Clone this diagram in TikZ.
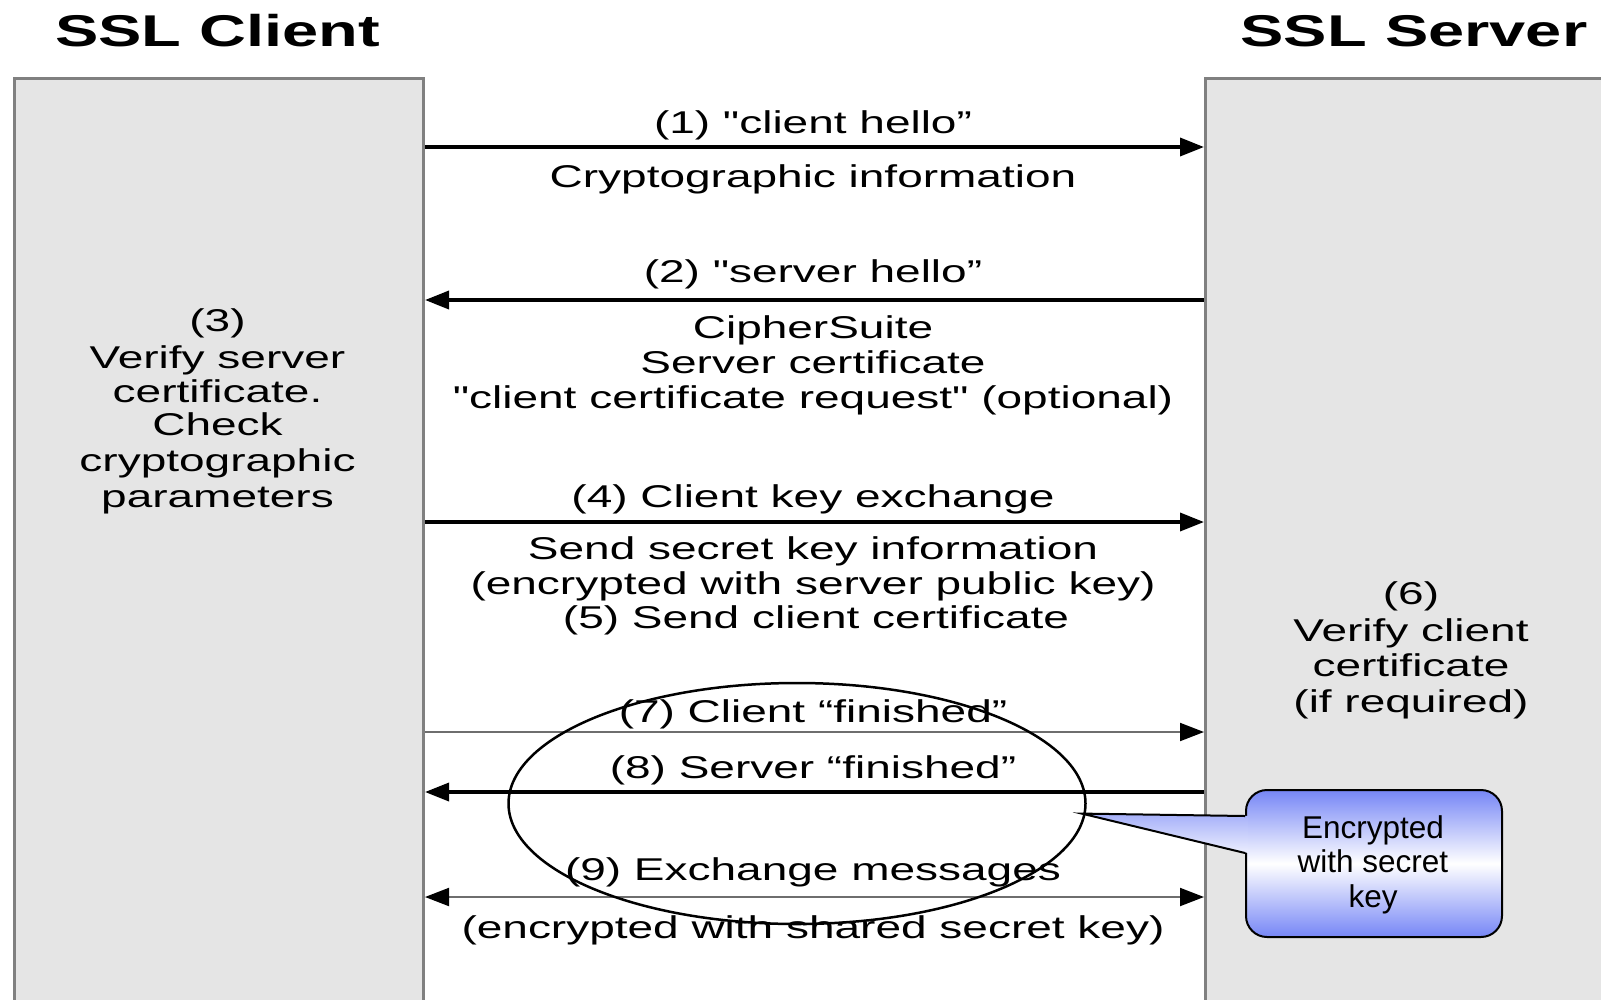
\documentclass[tikz,border=0pt]{standalone}
\usepackage{fontspec}
\setmainfont{Liberation Sans}
\newfontfamily\widefont{Liberation Sans}[FakeStretch=1.46]
\usetikzlibrary{arrows.meta,shapes.geometric}
\definecolor{boxgray}{RGB}{229,229,229}
\definecolor{boxedge}{RGB}{128,128,128}
\definecolor{callblue}{RGB}{118,134,246}
\definecolor{thingray}{RGB}{110,110,110}
\begin{document}
\begin{tikzpicture}[x=1pt,y=-1pt,
 lane/.style={draw=boxedge, line width=3pt, fill=boxgray, minimum width=409pt, minimum height=960pt, inner sep=0pt, anchor=north west},
 title/.style={font=\widefont\bfseries\fontsize{44.5}{50}\selectfont, anchor=base, inner sep=0pt},
 lbl/.style={font=\widefont\fontsize{31.5}{34.5}\selectfont, anchor=base, inner sep=0pt},
 calltxt/.style={font=\fontsize{31.5}{34.5}\selectfont, anchor=base, inner sep=0pt},
 msg/.style={line width=3.5pt, -{Triangle[length=24pt,width=18pt]}},
 thinmsg/.style={line width=2pt, draw=thingray},
 callbox/.style={draw=black, line width=2pt, rounded corners=21pt, top color=callblue, bottom color=callblue, middle color=white, minimum width=256pt, minimum height=147pt, inner sep=0pt},
]
\useasboundingbox (0,0) rectangle (1601,999);
\fill[white] (0,0) rectangle (1601,999);

% lanes
\node[lane] (client) at (13,77) {};
\node[lane] (server) at (1204,77) {};

% titles
\node[title] (tclient) at (217.5,46.6) {SSL Client};
\node[title] (tserver) at (1414,46.6) {SSL Server};

% message rows
\coordinate (y1) at (0,147);
\coordinate (y2) at (0,300);
\coordinate (y4) at (0,522);
\coordinate (y7) at (0,732);
\coordinate (y8) at (0,792);
\coordinate (y9) at (0,897);

\draw[msg] (client.east |- y1) -- (server.west |- y1);
\draw[msg] (server.west |- y2) -- (client.east |- y2);
\draw[msg] (client.east |- y4) -- (server.west |- y4);
\draw[thinmsg, -{Triangle[length=24pt,width=18pt,color=black]}] (client.east |- y7) -- (server.west |- y7);
\draw[msg] (server.west |- y8) -- (client.east |- y8);
\draw[thinmsg, {Triangle[length=24pt,width=18pt,color=black]}-{Triangle[length=24pt,width=18pt,color=black]}] (client.east |- y9) -- (server.west |- y9);

% message labels
\node[lbl] (m1a) at (813,133.5) {(1) "client hello”};
\node[lbl] (m1b) at (813,187.6) {Cryptographic information};
\node[lbl] (m2a) at (813,282.6) {(2) "server hello”};
\node[lbl] (m2b) at (813,338.7) {CipherSuite};
\node[lbl] (m2c) at (813,373.5) {Server certificate};
\node[lbl] (m2d) at (813,408) {"client certificate request" (optional)};
\node[lbl] (m4a) at (813,507) {(4) Client key exchange};
\node[lbl] (m4b) at (813,559) {Send secret key information};
\node[lbl] (m4c) at (813,594) {(encrypted with server public key)};
\node[lbl] (m5) at (816,628.7) {(5) Send client certificate};
\node[lbl] (m7) at (813,722.6) {(7) Client “finished”};
\node[lbl] (m8) at (813,778.8) {(8) Server “finished”};
\node[lbl] (m9a) at (813,880) {(9) Exchange messages};
\node[lbl] (m9b) at (813,938) {(encrypted with shared secret key)};

% client side step (3)
\node[lbl] (c3a) at (217.5,331.6) {(3)};
\node[lbl] (c3b) at (217.5,368) {Verify server};
\node[lbl] (c3c) at (217.5,402) {certificate.};
\node[lbl] (c3d) at (217.5,435.7) {Check};
\node[lbl] (c3e) at (217.5,471.5) {cryptographic};
\node[lbl] (c3f) at (217.5,507) {parameters};

% server side step (6)
\node[lbl] (s6a) at (1411,604) {(6)};
\node[lbl] (s6b) at (1411,641) {Verify client};
\node[lbl] (s6c) at (1411,676.7) {certificate};
\node[lbl] (s6d) at (1411,712.4) {(if required)};

% ellipse
\node[ellipse, draw=black, line width=2.5pt, minimum width=577pt, minimum height=241pt, inner sep=0pt] (ell) at (797,803.5) {};
\coordinate (tip) at ([xshift=-4pt]ell.-2);

% callout
\node[callbox] (call) at (1374,863.5) {};
\coordinate (pa) at (call.west |- 0,816);
\coordinate (pb) at (call.west |- 0,853);
\shade[top color=callblue!66!white, bottom color=callblue!14!white] (tip) -- ([xshift=3pt]pa) -- ([xshift=3pt]pb) -- cycle;
\draw[line width=2pt, line join=miter] (pa) -- (tip) -- (pb);
\node[calltxt] (k1) at (1373,838) {Encrypted};
\node[calltxt] (k2) at (1373,872) {with secret};
\node[calltxt] (k3) at (1373,907) {key};
\end{tikzpicture}
\end{document}
